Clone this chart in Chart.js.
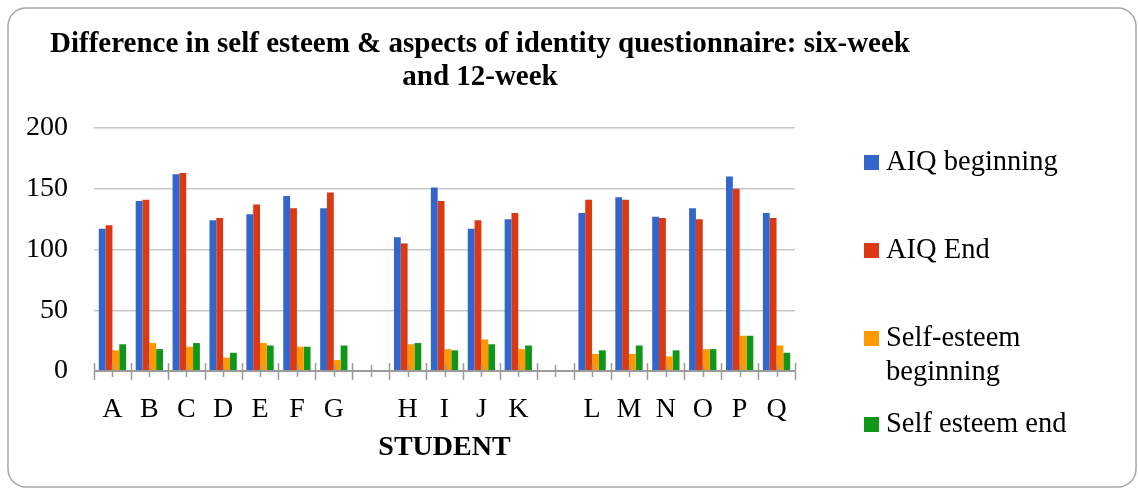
<!DOCTYPE html>
<html><head><meta charset="utf-8">
<script src="https://cdn.jsdelivr.net/npm/chart.js@4/dist/chart.umd.min.js"></script>
<style>html,body{margin:0;padding:0;background:#fff}#wrap{width:1138px;height:489px;position:relative}</style>
</head><body><div id="wrap"><canvas id="c" width="1138" height="489"></canvas></div>
<script>
const categories = ['A','B','C','D','E','F','G','','H','I','J','K','','L','M','N','O','P','Q'];
const aiqBeginning = [117,140,162,124,129,144,134,null,110,151,117,125,null,130,143,127,134,160,130];
const aiqEnd       = [120,141,163,126,137,134,147,null,105,140,124,130,null,141,141,126,125,150,126];
const seBeginning  = [17,23,20,11,23,20,9,null,22,18,26,18,null,14,14,12,18,29,21];
const seEnd        = [22,18,23,15,21,20,21,null,23,17,22,21,null,17,21,17,18,29,15];
const seriesLabels = ['AIQ beginning','AIQ End','Self-esteem beginning','Self esteem end'];
const seriesColors = ['#3366CC','#DC3912','#FF9900','#109618'];
const yTicks = [0,50,100,150,200];
const titleLines = ['Difference in self esteem & aspects of identity questionnaire: six-week','and 12-week'];
const xTitle = 'STUDENT';

const FONT = "'Liberation Serif','Times New Roman',serif";

const framePlugin = {
  id:'frame',
  beforeDraw(chart){
    const ctx = chart.ctx;
    ctx.save();
    ctx.fillStyle = '#fff';
    ctx.fillRect(0,0,chart.width,chart.height);
    ctx.strokeStyle = '#a8a8a8';
    ctx.lineWidth = 1.5;
    ctx.beginPath();
    ctx.roundRect(8,8,1128,479,18);
    ctx.stroke();
    ctx.fillStyle = '#000';
    ctx.font = "bold 29px " + FONT;
    ctx.textAlign = 'center';
    ctx.textBaseline = 'alphabetic';
    titleLines.forEach((t,i)=>ctx.fillText(t, 480, 52 + i*33));
    ctx.restore();
  }
};

const axisPlugin = {
  id:'axisTicks',
  afterDatasetsDraw(chart){
    const ctx = chart.ctx, xs = chart.scales.x, ca = chart.chartArea;
    const y0 = ca.bottom;
    const n = categories.length;
    const half = (xs.getPixelForValue(1) - xs.getPixelForValue(0)) / 2;
    ctx.save();
    ctx.strokeStyle = '#9a9a9a';
    ctx.lineWidth = 2;
    ctx.beginPath();
    ctx.moveTo(ca.left, y0); ctx.lineTo(ca.right, y0);
    ctx.stroke();
    ctx.lineWidth = 1.5;
    for (let i = 0; i <= n; i++) {
      const xb = Math.round(xs.getPixelForValue(i) - half) + 0.5;
      ctx.beginPath(); ctx.moveTo(xb, y0 - 8); ctx.lineTo(xb, y0 + 9); ctx.stroke();
      if (i < n) {
        const xc = Math.round(xs.getPixelForValue(i)) + 0.5;
        ctx.beginPath(); ctx.moveTo(xc, y0 - 6); ctx.lineTo(xc, y0 + 6); ctx.stroke();
      }
    }
    ctx.restore();
  }
};

const legendPlugin = {
  id:'sideLegend',
  afterDraw(chart){
    const ctx = chart.ctx;
    const firstLineY = [163, 251, 339, 425];
    const lineH = 34, maxW = 220;
    ctx.save();
    ctx.font = "28.5px " + FONT;
    ctx.textBaseline = 'middle';
    ctx.textAlign = 'left';
    chart.data.datasets.forEach((ds, i) => {
      const words = ds.label.split(' ');
      const lines = [];
      let cur = '';
      words.forEach(w => {
        const test = cur ? cur + ' ' + w : w;
        if (cur && ctx.measureText(test).width > maxW) { lines.push(cur); cur = w; }
        else cur = test;
      });
      if (cur) lines.push(cur);
      const y = firstLineY[i];
      ctx.fillStyle = ds.backgroundColor;
      ctx.fillRect(864, y - 8, 15, 15);
      ctx.fillStyle = '#000';
      lines.forEach((l, k) => ctx.fillText(l, 886, y + k * lineH));
    });
    ctx.restore();
  }
};

const datasets = [aiqBeginning, aiqEnd, seBeginning, seEnd].map((d, i) => ({
  label: seriesLabels[i],
  data: d,
  backgroundColor: seriesColors[i],
  borderWidth: 0,
  barPercentage: 1.0,
  categoryPercentage: 0.74
}));

new Chart(document.getElementById('c'), {
  type: 'bar',
  data: { labels: categories, datasets },
  options: {
    responsive: false,
    animation: false,
    devicePixelRatio: 1,
    layout: { padding: { left: 0, right: 343, top: 128, bottom: 0 } },
    plugins: { legend: { display: false }, title: { display: false }, tooltip: { enabled: false } },
    scales: {
      x: {
        grid: { display: false, drawTicks: false },
        border: { display: false },
        ticks: { font: { family: FONT, size: 28 }, color: '#000', padding: 22, maxRotation: 0, autoSkip: false },
        title: { display: true, text: xTitle, color: '#000', font: { family: FONT, size: 28, weight: 'bold' }, padding: { top: 8, bottom: 24 } },
        afterFit(s) { s.height = 118; }
      },
      y: {
        min: 0, max: 200,
        afterBuildTicks(s) { s.ticks = yTicks.map(v => ({ value: v })); },
        ticks: { font: { family: FONT, size: 28 }, color: '#000', padding: 26 },
        grid: { color: '#c8c8c8', lineWidth: 1.5, drawTicks: false },
        border: { display: false },
        afterFit(s) { s.width = 94; }
      }
    }
  },
  plugins: [framePlugin, axisPlugin, legendPlugin]
});
</script>
</body></html>
